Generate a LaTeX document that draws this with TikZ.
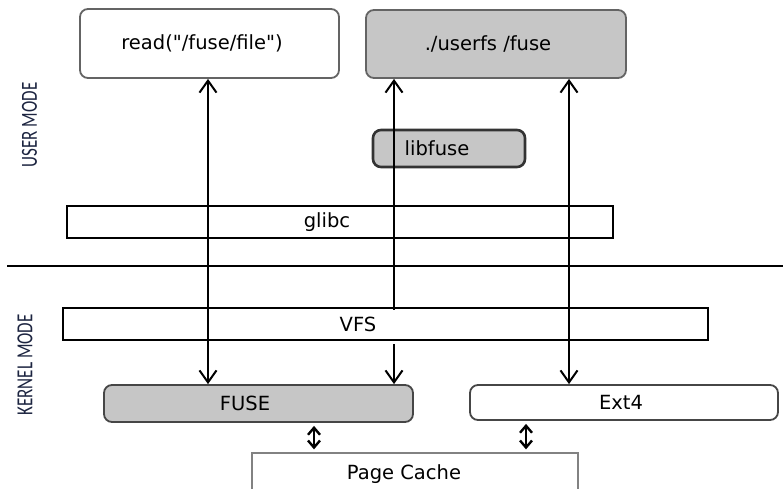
\documentclass[tikz,border=0pt]{standalone}
\usepackage{fontspec}
\setmainfont{DejaVu Sans}[Ligatures=TeXOff]
\newfontfamily\modefont{Carlito}
\usetikzlibrary{arrows.meta}
\definecolor{boxgray}{RGB}{198,198,198}
\definecolor{edgegray}{RGB}{70,70,70}
\definecolor{lightedge}{RGB}{100,100,100}
\definecolor{cacheedge}{RGB}{130,130,130}
\definecolor{modeblue}{RGB}{28,36,64}
\tikzset{
  mybarb/.tip={Straight Barb[length=12pt,width=17pt,line width=2pt]},
  mysmallbarb/.tip={Straight Barb[length=7pt,width=12pt,line width=2.4pt]},
  boxtext/.style={font=\fontsize{19.5}{22}\selectfont, inner sep=0pt, align=center},
  roundbox/.style={boxtext, rounded corners=8pt, draw=edgegray, line width=1.8pt, fill=white},
  grayround/.style={roundbox, fill=boxgray},
  barbox/.style={boxtext, draw=black, line width=2.2pt, fill=white},
  cachebox/.style={boxtext, draw=cacheedge, line width=1.3pt, fill=white},
  bigarrow/.style={line width=2pt, -{mybarb}},
  bigdbl/.style={line width=2pt, {mybarb}-{mybarb}},
  smalldbl/.style={line width=2.4pt, {mysmallbarb}-{mysmallbarb}, shorten <=3pt, shorten >=3pt},
  modelabel/.style={rotate=90, text=modeblue, font=\modefont\fontsize{23}{26}\selectfont, inner sep=0pt}
}
\begin{document}
\begin{tikzpicture}[x=1pt,y=-1pt]
\useasboundingbox (0,0) rectangle (783,488);
\clip (0,0) rectangle (783,488);

% boxes
\node[roundbox, draw=lightedge, minimum width=259pt, minimum height=69pt] (read) at (209.5,43.5) {read("/fuse/file")\hspace{15pt}};
\node[grayround, draw=lightedge, minimum width=260pt, minimum height=68pt] (userfs) at (496,44) {./userfs /fuse\hspace{16pt}};
\node[grayround, draw=black!80, line width=2.6pt, minimum width=152pt, minimum height=37pt] (libfuse) at (449,148.5) {libfuse\hspace{24pt}};
\node[barbox, minimum width=546pt, minimum height=32pt] (glibc) at (340,222) {glibc\hspace{26pt}};
\node[barbox, minimum width=645pt, minimum height=32pt] (vfs) at (385.5,324) {VFS\hspace{55pt}};
\node[grayround, minimum width=309pt, minimum height=37pt] (fuse) at (258.5,403.5) {FUSE\hspace{27pt}};
\node[roundbox, minimum width=308pt, minimum height=35pt] (ext4) at (624,402.5) {Ext4\hspace{6pt}};
\node[cachebox, minimum width=326pt, minimum height=42pt] (cache) at (415,474) {\raisebox{4pt}{Page Cache}\hspace{22pt}};

% separator
\coordinate (sepL) at (7,266);
\coordinate (sepR) at (783,266);
\draw[line width=2.2pt] (sepL) -- (sepR);

% mode labels
\node[modelabel] (user) at (29.5,125) {\scalebox{0.74}[1]{USER MODE}};
\node[modelabel] (kernel) at (25,365) {\scalebox{0.74}[1]{KERNEL MODE}};

% arrow columns
\coordinate (a1) at (208,0);
\coordinate (a2) at (394,0);
\coordinate (a3) at (569,0);
\coordinate (b1) at (314,0);
\coordinate (b2) at (526,0);

\draw[bigdbl] (read.south -| a1) -- (fuse.north -| a1);
\draw[bigarrow, shorten <=-3pt] (vfs.north -| a2) -- (userfs.south -| a2);
\draw[bigarrow, shorten <=3pt] (vfs.south -| a2) -- (fuse.north -| a2);
\draw[bigdbl] (userfs.south -| a3) -- (ext4.north -| a3);
\draw[smalldbl] (fuse.south -| b1) -- (cache.north -| b1);
\draw[smalldbl] (ext4.south -| b2) -- (cache.north -| b2);
\end{tikzpicture}
\end{document}
